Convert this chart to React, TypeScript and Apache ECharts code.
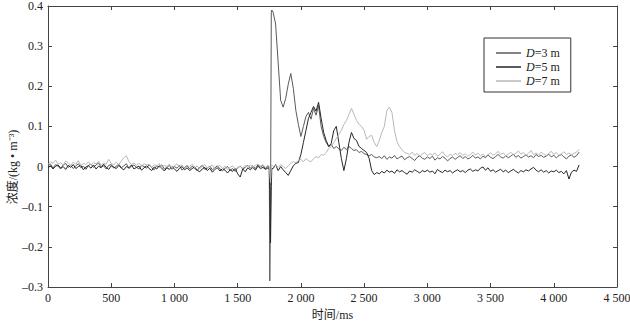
import React, { useEffect, useRef } from "react";
import * as echarts from "echarts";

// ---- data (concentration, kg/m^3), sampled every 20 ms from 0 to 4200 ms ----
const STEP_MS = 20;
const SERIES_NAMES = ["D=3 m", "D=5 m", "D=7 m"];
const X_TICKS = [0, 500, 1000, 1500, 2000, 2500, 3000, 3500, 4000, 4500];
const Y_TICKS = [-0.3, -0.2, -0.1, 0, 0.1, 0.2, 0.3, 0.4];

const d3 = [
  // 0 - 1740
  0.002, 0.006, -0.004, 0.005, 0.001, -0.006, 0.004, 0.008, -0.002, 0.003,
  -0.005, 0.002, 0.007, -0.003, 0.001, -0.007, 0.003, 0.006, -0.002, 0.004,
  0.009, -0.001, 0.002, -0.006, 0.003, 0.005, -0.004, 0.001, 0.006, -0.003,
  0.002, 0.007, -0.005, 0.001, 0.004, -0.002, -0.006, 0.003, 0.0, -0.004,
  0.005, -0.003, -0.008, 0.002, -0.001, 0.004, -0.006, -0.002, 0.003, -0.007,
  0.0, -0.004, 0.003, -0.009, -0.002, 0.002, -0.006, 0.001, -0.005, -0.01,
  -0.002, 0.003, -0.007, -0.004, 0.001, -0.008, -0.003, 0.002, -0.006, -0.011,
  -0.004, 0.0, -0.009, -0.005, -0.012, -0.003, 0.001, -0.006, -0.002, 0.003,
  -0.004, 0.002, -0.005, 0.004, -0.001, 0.003, -0.006, 0.002,
  // 1760
  -0.1,
  // 1780 - 2600
  0.385, 0.355, 0.26, 0.165, 0.148, 0.17, 0.205, 0.232, 0.195, 0.14,
  0.105, 0.075, 0.1, 0.125, 0.135, 0.118, 0.145, 0.128, 0.152, 0.1,
  0.075, 0.06, 0.05, 0.055, 0.045, 0.05, 0.044, 0.04, 0.048, 0.042,
  0.05, 0.045, 0.04, 0.042, 0.035, 0.038, 0.032, 0.03, 0.027, 0.03,
  0.024, 0.022,
  // 2620 - 4200
  0.025, 0.02, 0.027, 0.018, 0.024, 0.021, 0.028, 0.019, 0.023, 0.026,
  0.017, 0.022, 0.025, 0.02, 0.015, 0.023, 0.027, 0.021, 0.018, 0.024,
  0.02, 0.026, 0.016, 0.022, 0.019, 0.025, 0.021, 0.014, 0.02, 0.024,
  0.018, 0.023, 0.027, 0.02, 0.025, 0.019, 0.022, 0.028, 0.021, 0.024,
  0.019, 0.026, 0.022, 0.029, 0.023, 0.02, 0.025, 0.03, 0.024, 0.021,
  0.027, 0.022, 0.026, 0.031, 0.023, 0.028, 0.021, 0.025, 0.029, 0.024,
  0.027, 0.022, 0.03, 0.025, 0.028, 0.023, 0.026, 0.031, 0.024, 0.028,
  0.022, 0.027, 0.03, 0.024, 0.019, 0.026, 0.029, 0.023, 0.027, 0.036,
];

const d5 = [
  // 0 - 1740
  -0.003, 0.002, -0.006, 0.001, 0.004, -0.004, 0.0, -0.007, 0.003, -0.002,
  0.005, -0.005, 0.0, 0.003, -0.008, -0.001, 0.002, -0.004, 0.004, -0.006,
  0.001, -0.003, 0.006, -0.002, -0.007, 0.002, -0.001, -0.005, 0.003, -0.004,
  -0.008, 0.0, -0.003, 0.004, -0.006, -0.002, 0.001, -0.009, -0.003, 0.002,
  -0.005, -0.01, -0.001, -0.006, 0.002, -0.004, -0.011, -0.003, -0.007, 0.0,
  -0.006, -0.012, -0.004, 0.0, -0.008, -0.003, -0.01, -0.005, -0.001, -0.009,
  -0.013, -0.006, -0.002, -0.01, -0.004, -0.014, -0.007, -0.003, -0.011, -0.005,
  -0.009, -0.016, -0.008, -0.012, -0.004, -0.018, -0.026, -0.006, -0.013, -0.003,
  -0.008, -0.002, -0.009, 0.001, -0.005, -0.002, -0.007, -0.003,
  // 1760
  -0.19,
  // 1780 - 2600
  -0.005, 0.005, -0.01, 0.0, -0.008, -0.015, -0.022, -0.01, 0.002, 0.008,
  0.01, 0.03, 0.06, 0.09, 0.12, 0.135, 0.15, 0.138, 0.16, 0.12,
  0.085, 0.065, 0.05, 0.058, 0.09, 0.1, 0.06, 0.02, -0.01, 0.02,
  0.06, 0.085, 0.07, 0.065, 0.05, 0.045, 0.04, 0.035, 0.02, -0.01,
  -0.02, -0.015,
  // 2620 - 4200
  -0.018, -0.012, -0.016, -0.009, -0.014, -0.011, -0.017, -0.008, -0.013, -0.01,
  -0.015, -0.019, -0.011, -0.014, -0.008, -0.012, -0.016, -0.01, -0.013, -0.009,
  -0.014, -0.011, -0.018, -0.007, -0.012, -0.015, -0.009, -0.013, -0.01, -0.016,
  -0.011, -0.008, -0.013, -0.01, -0.015, -0.009, -0.006, -0.012, -0.008, -0.011,
  -0.004, -0.001, -0.009, -0.003, -0.012, -0.008, -0.014, -0.01, -0.007, -0.013,
  -0.009, -0.015, -0.011, -0.007, -0.012, -0.016, -0.01, -0.013, -0.008, -0.011,
  -0.006, -0.002, -0.009, -0.013, -0.008, -0.014, -0.01, -0.016, -0.011, -0.013,
  -0.009, -0.015, -0.012, -0.018, -0.01, -0.031, -0.014, -0.009, -0.012, 0.004,
];

const d7 = [
  // 0 - 1740
  0.005, 0.012, 0.008, 0.016, 0.006, 0.01, 0.004, 0.014, 0.009, 0.003,
  0.011, 0.006, 0.015, 0.002, 0.008, 0.005, 0.012, 0.004, 0.01, 0.007,
  0.013, 0.003, 0.009, 0.006, 0.018, 0.008, 0.004, 0.011, 0.005, 0.014,
  0.022, 0.027, 0.012, 0.006, 0.009, 0.003, 0.008, 0.002, 0.007, 0.004,
  0.006, -0.002, 0.005, 0.001, 0.008, -0.003, 0.004, 0.0, 0.006, -0.004,
  0.002, 0.007, -0.001, 0.004, -0.005, 0.003, 0.0, 0.006, -0.003, 0.002,
  -0.006, 0.001, 0.005, -0.004, 0.0, 0.004, -0.007, -0.001, 0.003, -0.005,
  0.001, -0.008, -0.002, 0.002, -0.006, -0.003, 0.001, -0.004, 0.003, -0.002,
  0.004, -0.001, 0.003, 0.006, 0.001, 0.005, -0.002, 0.003,
  // 1760
  -0.04,
  // 1780 - 2840
  0.0, 0.003, -0.002, 0.005, 0.0, -0.005, 0.002, 0.008, 0.012, 0.01,
  0.015, 0.018, 0.012, 0.02, 0.015, 0.012, 0.02, 0.025, 0.022, 0.03,
  0.028, 0.035, 0.045, 0.05, 0.06, 0.07, 0.08, 0.09, 0.105, 0.115,
  0.13, 0.145, 0.13, 0.115, 0.105, 0.1, 0.09, 0.068, 0.075, 0.078,
  0.06, 0.05, 0.065, 0.085, 0.1, 0.14, 0.148, 0.135, 0.09, 0.062,
  0.05, 0.042, 0.035, 0.033,
  // 2860 - 4200
  0.03, 0.036, 0.028, 0.033, 0.025, 0.031, 0.035, 0.027, 0.032, 0.029,
  0.034, 0.026, 0.03, 0.037, 0.028, 0.024, 0.031, 0.027, 0.033, 0.029,
  0.035, 0.028, 0.032, 0.026, 0.03, 0.036, 0.029, 0.033, 0.027, 0.031,
  0.025, 0.03, 0.034, 0.028, 0.032, 0.038, 0.03, 0.034, 0.027, 0.031,
  0.036, 0.029, 0.033, 0.039, 0.031, 0.035, 0.028, 0.033, 0.04, 0.03,
  0.034, 0.029, 0.036, 0.031, 0.027, 0.033, 0.038, 0.03, 0.035, 0.028,
  0.032, 0.037, 0.03, 0.034, 0.029, 0.033, 0.036, 0.043,
];

// extra samples around the spike at ~1760 ms
const spikeTimes = [1750, 1754, 1766, 1770];
const d3Spike = [-0.005, -0.285, 0.385, 0.39];
const d5Spike = [-0.006, -0.06, -0.05, -0.005];
const d7Spike = [0.0, -0.02, 0.0, 0.004];

const COLORS = ["#5a5a5a", "#262626", "#b8b8b8"];
const FONT = "'Liberation Serif', 'Times New Roman', 'Noto Sans CJK SC', serif";

function buildSeries(base: number[], spike: number[]) {
  const pts: number[][] = base.map((v, i) => [i * STEP_MS, v]);
  spikeTimes.forEach((t, j) => pts.push([t, spike[j]]));
  pts.sort((a, b) => a[0] - b[0]);
  return pts;
}

const fmtX = (v: number) => {
  const s = String(Math.round(v));
  return s.length > 3 ? s.slice(0, s.length - 3) + " " + s.slice(-3) : s;
};
const fmtY = (v: number) => {
  const r = Math.round(v * 10) / 10;
  if (r === 0) return "0";
  return r < 0 ? "\u2013" + Math.abs(r).toFixed(1) : r.toFixed(1);
};

export default function App() {
  const ref = useRef<HTMLDivElement>(null);
  useEffect(() => {
    if (!ref.current) return;
    const chart = echarts.init(ref.current, undefined, { renderer: "svg" });
    const axisLine = { show: true, onZero: false, lineStyle: { color: "#444", width: 1 } };
    const tick = { show: true, inside: true, length: 4, lineStyle: { color: "#444" } };
    const labelStyle = { fontFamily: FONT, fontSize: 12, color: "#222" };
    const data = [buildSeries(d3, d3Spike), buildSeries(d5, d5Spike), buildSeries(d7, d7Spike)];
    chart.setOption({
      animation: false,
      backgroundColor: "#fff",
      grid: { left: 48, right: 13, top: 6, bottom: 36, outerBoundsMode: "none", containLabel: false },
      xAxis: [
        {
          type: "value",
          min: X_TICKS[0],
          max: X_TICKS[X_TICKS.length - 1],
          interval: 500,
          position: "bottom",
          axisLine,
          axisTick: tick,
          splitLine: { show: false },
          axisLabel: { ...labelStyle, margin: 5, formatter: fmtX },
          name: "时间/ms",
          nameLocation: "middle",
          nameGap: 21,
          nameTextStyle: { ...labelStyle },
        },
        {
          type: "value",
          min: X_TICKS[0],
          max: X_TICKS[X_TICKS.length - 1],
          interval: 500,
          position: "top",
          axisLine,
          axisTick: tick,
          splitLine: { show: false },
          axisLabel: { show: false },
        },
      ],
      yAxis: [
        {
          type: "value",
          min: Y_TICKS[0],
          max: Y_TICKS[Y_TICKS.length - 1],
          interval: 0.1,
          position: "left",
          axisLine,
          axisTick: tick,
          splitLine: { show: false },
          axisLabel: { ...labelStyle, margin: 5, formatter: fmtY },
        },
        {
          type: "value",
          min: Y_TICKS[0],
          max: Y_TICKS[Y_TICKS.length - 1],
          interval: 0.1,
          position: "right",
          axisLine,
          axisTick: tick,
          splitLine: { show: false },
          axisLabel: { show: false },
        },
      ],
      legend: {
        orient: "vertical",
        left: 484,
        top: 38,
        padding: [9, 11, 5, 12],
        borderColor: "#333",
        borderWidth: 1,
        backgroundColor: "#fff",
        icon: "rect",
        itemWidth: 25,
        itemHeight: 1.5,
        itemGap: 2,
        data: SERIES_NAMES,
        formatter: (name: string) => "{it|D}{rg|" + name.slice(1) + "}",
        textStyle: {
          fontFamily: FONT,
          fontSize: 12,
          color: "#222",
          rich: {
            it: { fontFamily: FONT, fontStyle: "italic", fontSize: 12, color: "#222" },
            rg: { fontFamily: FONT, fontSize: 12, color: "#222" },
          },
        },
      },
      graphic: [
        {
          type: "text",
          x: 13,
          y: 167,
          rotation: Math.PI / 2,
          style: {
            text: "浓度/(kg • m⁻³)",
            fontFamily: FONT,
            fontSize: 12,
            fill: "#222",
            align: "center",
            verticalAlign: "middle",
          },
        },
      ],
      series: SERIES_NAMES.map((name, i) => ({
        name,
        type: "line",
        xAxisIndex: 0,
        yAxisIndex: 0,
        data: data[i],
        showSymbol: false,
        symbol: "none",
        color: COLORS[i],
        lineStyle: { color: COLORS[i], width: 1 },
      })),
    });
    return () => chart.dispose();
  }, []);
  return (
    <div
      ref={ref}
      style={{ position: "fixed", left: 0, top: 0, width: 630, height: 323, background: "#fff" }}
    />
  );
}
